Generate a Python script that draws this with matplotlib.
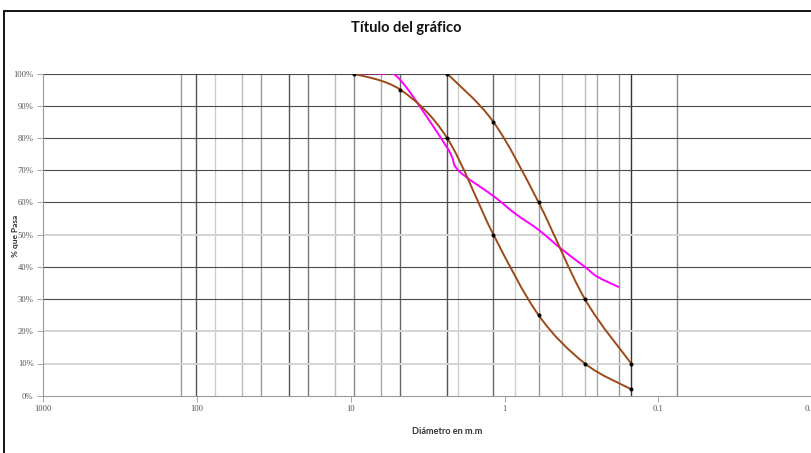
import numpy as np
import matplotlib
matplotlib.use("Agg")
import matplotlib.pyplot as plt
from matplotlib.path import Path
from matplotlib.patches import PathPatch, Rectangle

# sieve openings (mm) drawn as vertical grid lines
sieves = [127, 101.6, 76.2, 50.8, 38.1, 25.4, 19.05, 12.7, 9.525, 6.35, 4.75,
          2.36, 2.0, 1.18, 0.85, 0.6, 0.425, 0.3, 0.25, 0.18, 0.15, 0.075]
sieve_colors = ["#999999", "#555555", "#cccccc", "#bbbbbb", "#999999", "#555555",
                "#777777", "#bbbbbb", "#888888", "#aaaaaa", "#666666",
                "#555555", "#cccccc", "#666666", "#cccccc", "#999999", "#bbbbbb",
                "#bbbbbb", "#aaaaaa", "#999999", "#333333", "#888888"]

# brown curve, finer limit
lower_d = [9.525, 4.75, 2.36, 1.18, 0.6, 0.3, 0.15]
lower_p = [100, 95, 80, 50, 25, 10, 2]

# brown curve, coarser limit
upper_d = [2.36, 1.18, 0.6, 0.3, 0.15]
upper_p = [100, 85, 60, 30, 10]

# magenta sample
sample_d = [9.525, 6.35, 4.75, 2.36, 2.0, 1.18, 0.85, 0.6, 0.425, 0.3, 0.25, 0.18]
sample_p = [100, 100, 98, 77, 70, 62, 56.5, 51.5, 45.5, 40, 37, 33.7]

y_ticks = [0, 10, 20, 30, 40, 50, 60, 70, 80, 90, 100]
y_light = [10, 20, 50]
x_ticks = [1000, 100, 10, 1, 0.1, 0.01]
x_labels = ["1000", "100", "10", "1", "0.1", "0.01"]


def smooth_path(xs, ys):
    # excel style smoothed line: cubic bezier through points in log-x space
    lx = np.log10(xs)
    ys = np.asarray(ys, float)
    pts = np.column_stack([lx, ys])
    n = len(pts)
    verts = [pts[0]]
    codes = [Path.MOVETO]
    for i in range(n - 1):
        p0 = pts[i - 1] if i > 0 else pts[i]
        p1 = pts[i]
        p2 = pts[i + 1]
        p3 = pts[i + 2] if i + 2 < n else pts[i + 1]
        c1 = p1 + (p2 - p0) / 6
        c2 = p2 - (p3 - p1) / 6
        verts += [c1, c2, p2]
        codes += [Path.CURVE4] * 3
    verts = np.array(verts)
    verts[:, 0] = 10 ** verts[:, 0]
    return Path(verts, codes)


plt.rcParams["font.family"] = ["Lato", "DejaVu Sans"]

fig = plt.figure(figsize=(8.12, 4.53), dpi=100)
W, H = 812, 453
ax = fig.add_axes([43.3 / W, (H - 395.7) / H, (W - 43.3) / W, (395.7 - 73.7) / H])

# chart area frame
fig.patches.append(Rectangle((4.5 / W, -0.1), 1.2, 1 - 10.5 / H + 0.1,
                             transform=fig.transFigure, fill=False,
                             edgecolor="black", linewidth=1.3))

ax.set_xscale("log")
ax.set_xlim(1000, 0.01)
ax.set_ylim(0, 100)

for d, c in zip(sieves, sieve_colors):
    ax.axvline(d, color=c, linewidth=1.0, zorder=1)
for v in y_ticks[1:]:
    if v in y_light:
        ax.axhline(v, color="#d4d4d4", linewidth=1.4, zorder=1)
    else:
        ax.axhline(v, color="#4a4a4a", linewidth=0.8, zorder=1)

brown = "#9c4a1a"
for xs, ys in [(lower_d, lower_p), (upper_d, upper_p)]:
    ax.add_patch(PathPatch(smooth_path(xs, ys), fill=False, edgecolor=brown,
                           linewidth=1.4, zorder=3))
    ax.plot(xs, ys, "o", color="black", markersize=1.9, zorder=4)

ax.add_patch(PathPatch(smooth_path(sample_d, sample_p), fill=False,
                       edgecolor="#ff00ff", linewidth=1.4, zorder=2))

for s in ["top", "right"]:
    ax.spines[s].set_visible(False)
for s in ["left", "bottom"]:
    ax.spines[s].set_color("#999999")
    ax.spines[s].set_linewidth(0.8)

ax.set_yticks(y_ticks)
ax.set_yticklabels([f"{v}%" for v in y_ticks])
ax.set_xticks(x_ticks)
ax.set_xticklabels(x_labels)
ax.xaxis.set_minor_locator(matplotlib.ticker.NullLocator())
ax.tick_params(axis="both", labelsize=6.2, colors="#999999", labelcolor="#555555",
               length=4, width=0.6, direction="out", pad=3)
for lab in ax.get_xticklabels() + ax.get_yticklabels():
    lab.set_family(["Liberation Serif", "DejaVu Serif"])

fig.text(406 / W, 1 - 28 / H, "Título del gráfico", ha="center", va="center",
         fontsize=10.5, fontweight="bold", color="#111111")
fig.text(16 / W, 1 - 236 / H, "% que Pasa", ha="center", va="center",
         rotation=90, fontsize=6, fontweight="bold", color="#333333")
fig.text(447 / W, 1 - 432 / H, "Diámetro en m.m", ha="center", va="center",
         fontsize=6.6, fontweight="bold", color="#333333")

fig.savefig("out.png", dpi=100)
